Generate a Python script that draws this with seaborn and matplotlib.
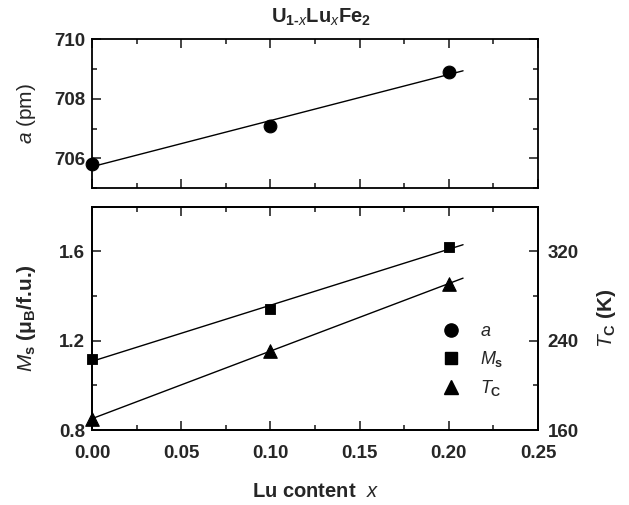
import numpy as np
import matplotlib
matplotlib.use("Agg")
import matplotlib.pyplot as plt
import seaborn as sns
from matplotlib.ticker import MultipleLocator, FormatStrFormatter
from matplotlib.lines import Line2D

# Dados
lu_x = [0.00, 0.10, 0.20]
lattice_a = [705.8, 707.1, 708.9]      # pm
moment_ms = [1.117, 1.340, 1.619]      # muB/f.u.
curie_tc = [170, 231, 291]             # K

sns.set_theme(style="ticks")
plt.rcParams['font.family'] = ['Liberation Sans', 'DejaVu Sans']
plt.rcParams['font.weight'] = 'bold'
plt.rcParams['mathtext.fontset'] = 'custom'
plt.rcParams['mathtext.rm'] = 'Liberation Sans:weight=bold'
plt.rcParams['mathtext.bf'] = 'Liberation Sans:weight=bold'
plt.rcParams['mathtext.it'] = 'Liberation Sans:style=italic:weight=normal'
plt.rcParams['axes.linewidth'] = 1.3
plt.rcParams['axes.edgecolor'] = 'black'

fig = plt.figure(figsize=(6.29, 5.05), dpi=100)
ax_top = fig.add_axes([0.1463, 0.6277, 0.709, 0.2945])
ax_bot = fig.add_axes([0.1463, 0.1485, 0.709, 0.4422])
ax_tc = ax_bot.twinx()

x_fit = np.array([0.0, 0.208])

def fit_line(ax, y):
    k, b = np.polyfit(lu_x, y, 1)
    sns.lineplot(x=x_fit, y=k * x_fit + b, ax=ax, color='black', linewidth=1.0)

# painel superior: parâmetro de rede
fit_line(ax_top, lattice_a)
sns.scatterplot(x=lu_x, y=lattice_a, ax=ax_top, marker='o', s=85,
                color='black', edgecolor='black', zorder=5, clip_on=False)

# painel inferior: Ms (esquerda) e Tc (direita)
fit_line(ax_bot, moment_ms)
sns.scatterplot(x=lu_x, y=moment_ms, ax=ax_bot, marker='s', s=60,
                color='black', edgecolor='black', zorder=5, clip_on=False)
fit_line(ax_tc, curie_tc)
sns.scatterplot(x=lu_x, y=curie_tc, ax=ax_tc, marker='^', s=95,
                color='black', edgecolor='black', zorder=5, clip_on=False)

for ax in (ax_top, ax_bot):
    ax.set_xlim(0, 0.25)
    ax.xaxis.set_major_locator(MultipleLocator(0.05))
    ax.xaxis.set_minor_locator(MultipleLocator(0.025))

ax_top.set_ylim(705, 710)
ax_top.yaxis.set_major_locator(MultipleLocator(2))
ax_top.yaxis.set_minor_locator(MultipleLocator(1))
ax_bot.set_ylim(0.8, 1.8)
ax_bot.yaxis.set_major_locator(MultipleLocator(0.4))
ax_bot.yaxis.set_minor_locator(MultipleLocator(0.2))
ax_tc.set_ylim(160, 360)
ax_tc.yaxis.set_major_locator(MultipleLocator(80))
ax_tc.yaxis.set_minor_locator(MultipleLocator(40))

ax_top.tick_params(which='both', direction='in', top=True, right=True,
                   labelbottom=False, labelsize=13.5, width=1.2)
ax_top.tick_params(which='major', length=6.5)
ax_top.tick_params(which='minor', length=3.5)
ax_top.tick_params(axis='y', pad=5)
ax_bot.tick_params(which='both', direction='in', top=True, right=False,
                   labelsize=13.5, width=1.2)
ax_bot.tick_params(which='major', length=6.5)
ax_bot.tick_params(which='minor', length=3.5)
ax_bot.tick_params(axis='x', pad=11)
ax_bot.tick_params(axis='y', pad=5)
ax_tc.tick_params(which='both', direction='in', right=True, left=False,
                  labelsize=13.5, width=1.2, pad=7)
ax_tc.tick_params(which='major', length=6.5)
ax_tc.tick_params(which='minor', length=3.5)

ax_bot.xaxis.set_major_formatter(FormatStrFormatter('%.2f'))
ax_bot.yaxis.set_major_formatter(FormatStrFormatter('%.1f'))

ax_top.set_ylabel('$a$ (pm)', fontsize=15, fontweight='normal')
ax_bot.set_ylabel('$M_\\mathrm{s}$ (μ$_\\mathrm{B}$/f.u.)', fontsize=15, fontweight='bold')
ax_tc.set_ylabel('$T_\\mathrm{C}$ (K)', fontsize=15, fontweight='bold')
ax_bot.set_xlabel('Lu content  $x$', fontsize=14.5, fontweight='bold')
ax_top.yaxis.set_label_coords(-0.122, 0.5)
ax_bot.yaxis.set_label_coords(-0.122, 0.5)
ax_tc.yaxis.set_label_coords(1.127, 0.5)
ax_bot.xaxis.set_label_coords(0.5, -0.235)

fig.text(0.51, 0.966, 'U$_{1\u2010x}$Lu$_x$Fe$_2$', ha='center', va='center',
         fontsize=14.5, fontweight='bold')

handles = [
    Line2D([], [], marker='o', color='black', linestyle='none', markersize=9.5),
    Line2D([], [], marker='s', color='black', linestyle='none', markersize=8),
    Line2D([], [], marker='^', color='black', linestyle='none', markersize=9.5),
]
labels = ['$a$', '$M_\\mathrm{s}$', '$T_\\mathrm{C}$']
ax_tc.legend(handles, labels, loc='upper left', bbox_to_anchor=(0.765, 0.52),
             frameon=False, fontsize=13, handlelength=1.0, handletextpad=1.1,
             labelspacing=0.5, borderpad=0)

fig.savefig("out.png", dpi=100)
